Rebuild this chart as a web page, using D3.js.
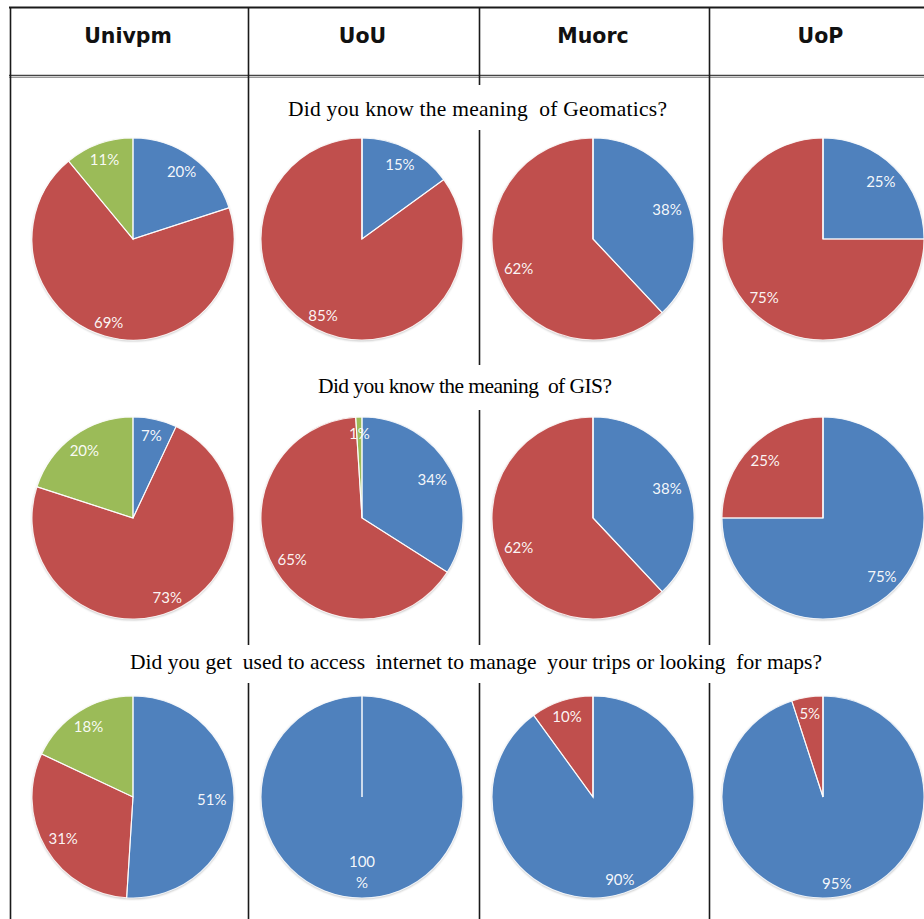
<!DOCTYPE html>
<html><head><meta charset="utf-8">
<script src="https://cdn.jsdelivr.net/npm/d3@7/dist/d3.min.js"></script>
<style>body{margin:0;background:#fff}svg{display:block}</style>
</head><body><svg id="c" width="924" height="919"></svg>
<script>
// ---- data ----
const universities = ["Univpm", "UoU", "Muorc", "UoP"];
const questions = [
  "Did you know the meaning  of Geomatics?",
  "Did you know the meaning  of GIS?",
  "Did you get  used to access  internet to manage  your trips or looking  for maps?"
];
const seriesNames = ["Series 1", "Series 2", "Series 3"];
// per question (row) and per university (column), percentages
const series1Values = [[20, 15, 38, 25], [7, 34, 38, 75], [51, 100, 90, 95]];
const series2Values = [[69, 85, 62, 75], [73, 65, 62, 25], [31, 0, 10, 5]];
const series3Values = [[11, 0, 0, 0], [20, 1, 0, 0], [18, 0, 0, 0]];

// ---- layout / style ----
const colors = ["#4F81BD", "#C0504D", "#9BBB59"];
const colEdges = [10, 248, 479, 709, 934];
const pieCx = [133, 362, 593, 823];
const rowCy = [239, 518, 797];
const R = 101;
const titleCx = [477.5, 465, 476];
const titleWidth = [379, 294, 692];
const titleBaseline = [116, 393, 669];
const vSegments = [
  [[7, 919]],
  [[7, 645], [683, 919]],
  [[7, 85], [130, 365], [410, 645], [683, 919]],
  [[7, 645], [683, 919]]
];

const svg = d3.select("#c");
const defs = svg.append("defs");
const f = defs.append("filter").attr("id", "sh").attr("x", "-10%").attr("y", "-10%").attr("width", "120%").attr("height", "120%");
f.append("feDropShadow").attr("dx", 0).attr("dy", 1).attr("stdDeviation", 1.2)
  .attr("flood-color", "#000").attr("flood-opacity", 0.28);

// table lines
const lines = svg.append("g").attr("stroke", "#1a1a1a").attr("stroke-width", 1.6);
lines.append("line").attr("x1", 9).attr("x2", 924).attr("y1", 7.5).attr("y2", 7.5).attr("stroke-width", 2);
lines.append("line").attr("x1", 9).attr("x2", 924).attr("y1", 75.5).attr("y2", 75.5).attr("stroke", "#444").attr("stroke-width", 1.5);
lines.append("line").attr("x1", 9).attr("x2", 924).attr("y1", 77.5).attr("y2", 77.5).attr("stroke", "#999").attr("stroke-width", 1.2);
vSegments.forEach((segs, i) => {
  segs.forEach(s => {
    lines.append("line").attr("x1", colEdges[i] + 0.5).attr("x2", colEdges[i] + 0.5)
      .attr("y1", s[0]).attr("y2", s[1]);
  });
});

// headers
universities.forEach((u, i) => {
  svg.append("text").attr("x", (colEdges[i] + colEdges[i + 1]) / 2 - 1).attr("y", 43)
    .attr("text-anchor", "middle").attr("font-family", "DejaVu Sans, sans-serif")
    .attr("font-weight", "bold").attr("font-size", 20.5).attr("fill", "#111").text(u);
});

// question titles
questions.forEach((q, r) => {
  svg.append("text").attr("x", titleCx[r]).attr("y", titleBaseline[r])
    .attr("text-anchor", "middle").attr("font-family", "Liberation Serif, Times New Roman, serif")
    .attr("font-size", 21.5).attr("fill", "#000").style("white-space", "pre")
    .attr("textLength", titleWidth[r]).attr("lengthAdjust", "spacing").text(q);
});

// pies
const pie = d3.pie().sort(null).value(d => d.value);
const arc = d3.arc().innerRadius(0).outerRadius(R);

questions.forEach((q, r) => {
  universities.forEach((u, c) => {
    const data = [
      { name: seriesNames[0], value: series1Values[r][c], color: colors[0] },
      { name: seriesNames[1], value: series2Values[r][c], color: colors[1] },
      { name: seriesNames[2], value: series3Values[r][c], color: colors[2] }
    ];
    const arcs = pie(data);
    const g = svg.append("g").attr("transform", `translate(${pieCx[c]},${rowCy[r]})`);
    g.append("g").attr("filter", "url(#sh)").selectAll("path").data(arcs).join("path")
      .attr("d", arc).attr("fill", d => d.data.color);
    g.append("g").selectAll("path").data(arcs).join("path")
      .attr("d", arc).attr("fill", "none").attr("stroke", "#fff").attr("stroke-width", 1.1)
      .attr("stroke-opacity", 0.85);
    arcs.filter(d => d.data.value > 0).forEach(d => {
      const mid = (d.startAngle + d.endAngle) / 2;
      const cs = Math.cos(mid);
      const wrap = d.data.value >= 100;
      let rr = R * (0.78 + 0.06 * cs * cs + (cs < 0 ? 0.03 * cs * cs : 0));
      if (wrap) rr -= 13;
      const la = d3.arc().innerRadius(rr).outerRadius(rr);
      const [lx, ly] = la.centroid(d);
      const t = g.append("text").attr("text-anchor", "middle")
        .attr("font-family", "Lato, Open Sans, sans-serif").attr("font-size", 15)
        .attr("fill", "#fff").attr("fill-opacity", 0.95);
      if (wrap) {
        t.append("tspan").attr("x", lx).attr("y", ly - 10.5).attr("dy", "0.36em").text(String(d.data.value));
        t.append("tspan").attr("x", lx).attr("y", ly + 10.5).attr("dy", "0.36em").text("%");
      } else {
        t.attr("x", lx).attr("y", ly).attr("dy", "0.36em").text(d.data.value + "%");
      }
    });
  });
});
</script></body></html>
